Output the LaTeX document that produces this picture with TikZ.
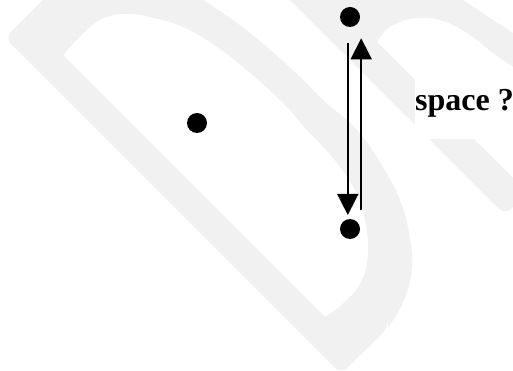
\documentclass[tikz,border=0pt]{standalone}
\usepackage{fontspec}
\setmainfont{Liberation Serif}
\definecolor{markgray}{RGB}{241, 241, 241}
\usepackage{tikz}
\usetikzlibrary{arrows.meta, positioning, calc}

\begin{document}
\begin{tikzpicture}[x=1pt, y=-1pt,
    dot/.style={circle, fill=black, minimum size=20pt, inner sep=0pt},
    flow/.style={line width=1.6pt, -{Triangle[length=21pt, width=21pt]}}]
  \useasboundingbox (0,0) rectangle (513,371);

  % Watermark letters
  \fill[markgray, even odd rule]
    [rounded corners=8pt] (43,0) -- (5,38) -- (341,374) -- (388,328)
    [sharp corners] -- plot[smooth, tension=0.7] coordinates {(388,328) (404,300) (412,267) (409,233) (400,200) (383,167) (357,130) (323,100) (300,77) (267,47) (233,20) (203,0)} -- cycle
    (63,55) -- plot[smooth, tension=0.7] coordinates {(63,55) (90,27) (110,16) (130,14) (150,17) (183,27) (217,47) (250,73) (283,103) (305,128) (333,158) (355,190) (365,220) (368,253) (362,280) (347,300) (325,317)} -- cycle;
  \fill[markgray]
    (290,0) [rounded corners=6pt] -- (499,209) -- (506,213) [sharp corners] -- (513,207) -- (513,178) -- (377,42)
    -- plot[smooth, tension=0.7] coordinates {(377,42) (386,30) (400,22) (417,18) (440,20) (467,33) (493,53) (513,67)}
    -- (513,33) -- (463,0) -- cycle;

  % Points
  \node[dot] (ptleft) at (197,123) {};
  \node[dot] (pttop) at (350,17) {};
  \node[dot] (ptbot) at (350,229) {};

  % Question label
  \node[fill=white, anchor=base west, inner xsep=0pt, inner ysep=0pt, text height=39pt, text depth=28pt,
        font=\fontsize{32}{38}\selectfont\bfseries] (question) at (415,111) {space ?};

  % Arrows between the points
  \draw[flow] ([xshift=-2.2pt, yshift=-26.3pt]pttop.center) -- ([xshift=-2.2pt, yshift=14pt]ptbot.center);
  \draw[flow] ([xshift=11.2pt, yshift=19pt]ptbot.center) -- ([xshift=11.2pt, yshift=-21.3pt]pttop.center);
\end{tikzpicture}
\end{document}
